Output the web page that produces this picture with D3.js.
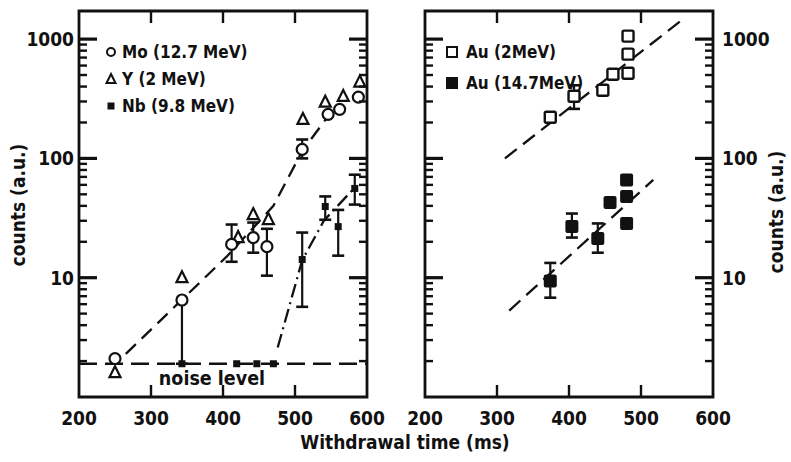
<!DOCTYPE html>
<html>
<head>
<meta charset="utf-8">
<script src="https://cdn.jsdelivr.net/npm/d3@7"></script>
<style>
  body { margin: 0; background: #fff; }
  svg text { font-family: "DejaVu Sans Condensed", "DejaVu Sans", sans-serif; font-weight: bold; fill: #111; }
</style>
</head>
<body>
<svg id="chart" width="791" height="462"></svg>
<script>
// ---- data ----
const xTicks = [200, 300, 400, 500, 600]
const yTicks = [10, 100, 1000]
const noiseLevel = 1.9

// left panel: Mo (12.7 MeV), circles
const moX  = [250, 343, 412, 442, 461, 510, 546, 562, 588]
const moY  = [2.1, 6.5, 19, 21.7, 18.2, 119, 234, 258, 326]
const moLo = [null, 1.9, 13.6, 16.2, 10.4, 100, null, null, null]
const moHi = [null, null, 27.9, 29, 25.7, 144, null, null, null]
// Y (2 MeV), triangles
const yX = [250, 343, 421, 442, 463, 511, 542, 567, 590]
const yY = [1.6, 10, 21.7, 33.8, 30.7, 212, 296, 331, 436]
// Nb (9.8 MeV), small filled squares
const nbX  = [343, 419, 447, 470, 510, 542, 560, 583]
const nbY  = [1.9, 1.9, 1.9, 1.9, 14.2, 39.5, 26.8, 56]
const nbLo = [null, null, null, null, 5.7, 30.6, 15.3, 41]
const nbHi = [null, null, null, null, 23.9, 48, 37, 73]
// hand drawn guide lines
const moFitX = [265, 405, 470, 510, 547]
const moFitY = [2.3, 15, 40, 115, 230]
const nbFitX = [476, 510, 540, 583]
const nbFitY = [2.6, 14, 30, 57]

// right panel: Au (2 MeV), open squares
const au2X  = [374, 407, 447, 461, 482, 482, 482]
const au2Y  = [221, 332, 373, 508, 518, 748, 1060]
const au2Lo = [null, 260, null, null, null, null, null]
const au2Hi = [null, 410, null, null, null, null, null]
// Au (14.7 MeV), filled squares
const au14X  = [374, 404, 440, 457, 480, 480, 480]
const au14Y  = [9.4, 26.8, 21.3, 42.7, 28.4, 48, 66]
const au14Lo = [6.8, 21.7, 16.2, null, null, null, null]
const au14Hi = [13.3, 34.5, 28.5, null, null, null, null]
const au2FitX = [311, 557]
const au2FitY = [100, 1450]
const au14FitX = [317, 517]
const au14FitY = [5.3, 66]

const svg = d3.select('#chart')
const frameTop = 11, frameBottom = 397
const ink = '#111'

function zip(xs, ys) { return xs.map((x, i) => ({x: x, y: ys[i], i: i})) }

function seg(g, x1, y1, x2, y2, w) {
	g.append('line').attr('x1', x1).attr('y1', y1).attr('x2', x2).attr('y2', y2)
		.attr('stroke', ink).attr('stroke-width', w)
}

function panel(left, right, labelSide) {
	let x = d3.scaleLinear().domain([200, 600]).range([left, right])
	let y = d3.scaleLog().domain([1, 1720]).range([frameBottom, frameTop])
	let g = svg.append('g')

	g.append('path')
		.attr('d', `M${left},${frameTop}H${right}V${frameBottom}H${left}Z`)
		.attr('fill', 'none').attr('stroke', ink).attr('stroke-width', 2.8)

	// labels
	g.selectAll(null).data(xTicks).enter().append('text')
		.attr('x', d => x(d)).attr('y', 425).attr('text-anchor', 'middle')
		.style('font-size', '19px').text(d => d)
	g.selectAll(null).data(yTicks).enter().append('text')
		.attr('x', labelSide == 'left' ? left - 5 : right + 9)
		.attr('y', d => y(d) + 7)
		.attr('text-anchor', labelSide == 'left' ? 'end' : 'start')
		.style('font-size', '19px').text(d => d)

	return {g: g, x: x, y: y, left: left, right: right}
}

// tick marks pointing into the frame, drawn as small filled bars
function tickMarks(p) {
	let minors = []
	for (let d = 1; d < 1000; d *= 10)
		for (let k = 2; k <= 9; k++) minors.push(d * k)
	let bars = []
	minors.forEach(v => {
		bars.push({x: p.left, y: p.y(v) - 1.2, w: 8, h: 2.4})
		bars.push({x: p.right - 8, y: p.y(v) - 1.2, w: 8, h: 2.4})
	})
	yTicks.forEach(v => {
		bars.push({x: p.left, y: p.y(v) - 1.6, w: 18, h: 3.2})
		bars.push({x: p.right - 18, y: p.y(v) - 1.6, w: 18, h: 3.2})
	})
	xTicks.slice(1, 4).forEach(v => {
		bars.push({x: p.x(v) - 1.2, y: frameBottom - 12, w: 2.4, h: 12})
		bars.push({x: p.x(v) - 1.2, y: frameTop, w: 2.4, h: 12})
	})
	svg.append('g').selectAll(null).data(bars).enter().append('rect')
		.attr('x', d => d.x).attr('y', d => d.y).attr('width', d => d.w).attr('height', d => d.h)
		.attr('fill', ink)
}

const L = panel(79, 367, 'left')
const R = panel(425, 713, 'right')

function guide(p, xs, ys, dash) {
	let line = d3.line().x(d => p.x(d.x)).y(d => p.y(d.y))
	p.g.append('path').attr('d', line(zip(xs, ys)))
		.attr('fill', 'none').attr('stroke', ink).attr('stroke-width', 2.3)
		.attr('stroke-dasharray', dash)
}

function errors(p, xs, ys, lo, hi) {
	zip(xs, ys).forEach(d => {
		let a = lo[d.i] != null ? lo[d.i] : d.y
		let b = hi[d.i] != null ? hi[d.i] : d.y
		if (a == b) return
		let cx = p.x(d.x)
		seg(p.g, cx, p.y(a), cx, p.y(b), 2.2)
		;[lo[d.i], hi[d.i]].forEach(v => {
			if (v == null) return
			seg(p.g, cx - 6, p.y(v), cx + 6, p.y(v), 2.6)
		})
	})
}

function markers(p, xs, ys, kind) {
	let sel = p.g.selectAll(null).data(zip(xs, ys)).enter()
	if (kind == 'circle') {
		sel.append('circle').attr('cx', d => p.x(d.x)).attr('cy', d => p.y(d.y)).attr('r', 5.5)
			.attr('fill', '#fff').attr('stroke', ink).attr('stroke-width', 2.2)
	} else if (kind == 'triangle') {
		sel.append('path').attr('transform', d => `translate(${p.x(d.x)},${p.y(d.y)})`)
			.attr('d', 'M0,-6.5L5.5,4.5L-5.5,4.5Z')
			.attr('fill', '#fff').attr('stroke', ink).attr('stroke-width', 2.2)
	} else if (kind == 'open') {
		sel.append('rect').attr('x', d => p.x(d.x) - 5.5).attr('y', d => p.y(d.y) - 5.5).attr('width', 11).attr('height', 11)
			.attr('rx', 1.5).attr('fill', '#fff').attr('stroke', ink).attr('stroke-width', 2.4)
	} else if (kind == 'filled') {
		sel.append('rect').attr('x', d => p.x(d.x) - 6.5).attr('y', d => p.y(d.y) - 6.5).attr('width', 13).attr('height', 13)
			.attr('rx', 2).attr('fill', ink)
	} else {
		sel.append('rect').attr('x', d => p.x(d.x) - 3.5).attr('y', d => p.y(d.y) - 3.5).attr('width', 7).attr('height', 7)
			.attr('fill', ink)
	}
}

// left panel content
guide(L, [200, 600], [noiseLevel, noiseLevel], '18 8')
guide(L, moFitX, moFitY, '14 8')
guide(L, nbFitX, nbFitY, '14 5 2 5')
errors(L, moX, moY, moLo, moHi)
errors(L, nbX, nbY, nbLo, nbHi)
markers(L, yX, yY, 'triangle')
markers(L, moX, moY, 'circle')
markers(L, nbX, nbY, 'small')
L.g.append('text').attr('x', 212).attr('y', 385).attr('text-anchor', 'middle').style('font-size', '19.5px').text('noise level')

// right panel content
guide(R, au2FitX, au2FitY, '15 8')
guide(R, au14FitX, au14FitY, '15 8')
errors(R, au2X, au2Y, au2Lo, au2Hi)
errors(R, au14X, au14Y, au14Lo, au14Hi)
markers(R, au2X, au2Y, 'open')
markers(R, au14X, au14Y, 'filled')

// legends
const legL = [['circle', 'Mo (12.7 MeV)'], ['triangle', 'Y  (2 MeV)'], ['small', 'Nb (9.8 MeV)']]
legL.forEach((e, i) => {
	let yy = 52 + i * 27
	let gx = L.g.append('g').attr('transform', `translate(111,${yy})`)
	if (e[0] == 'circle') gx.append('circle').attr('r', 4).attr('fill', '#fff').attr('stroke', ink).attr('stroke-width', 2)
	if (e[0] == 'triangle') gx.append('path').attr('d', 'M0,-5L4.5,4L-4.5,4Z').attr('fill', '#fff').attr('stroke', ink).attr('stroke-width', 2)
	if (e[0] == 'small') gx.append('rect').attr('x', -3.5).attr('y', -3.5).attr('width', 7).attr('height', 7).attr('fill', ink)
	L.g.append('text').attr('x', 122).attr('y', yy + 6).style('font-size', '17px').text(e[1])
})
const legR = [['open', 'Au (2MeV)'], ['filled', 'Au (14.7MeV)']]
legR.forEach((e, i) => {
	let yy = 52 + i * 31
	if (e[0] == 'open') R.g.append('rect').attr('x', 447).attr('y', yy - 5).attr('width', 10).attr('height', 10)
		.attr('fill', '#fff').attr('stroke', ink).attr('stroke-width', 2)
	else R.g.append('rect').attr('x', 446).attr('y', yy - 6).attr('width', 12).attr('height', 12).attr('fill', ink)
	R.g.append('text').attr('x', 466).attr('y', yy + 6).style('font-size', '17px').text(e[1])
})

tickMarks(L)
tickMarks(R)

// axis titles
svg.append('text').attr('transform', 'translate(25,205) rotate(-90)').attr('text-anchor', 'middle')
	.style('font-size', '19px').text('counts (a.u.)')
svg.append('text').attr('transform', 'translate(783,212) rotate(-90)').attr('text-anchor', 'middle')
	.style('font-size', '19px').text('counts (a.u.)')
svg.append('text').attr('x', 405).attr('y', 449).attr('text-anchor', 'middle')
	.style('font-size', '19px').text('Withdrawal time (ms)')
</script>
</body>
</html>
